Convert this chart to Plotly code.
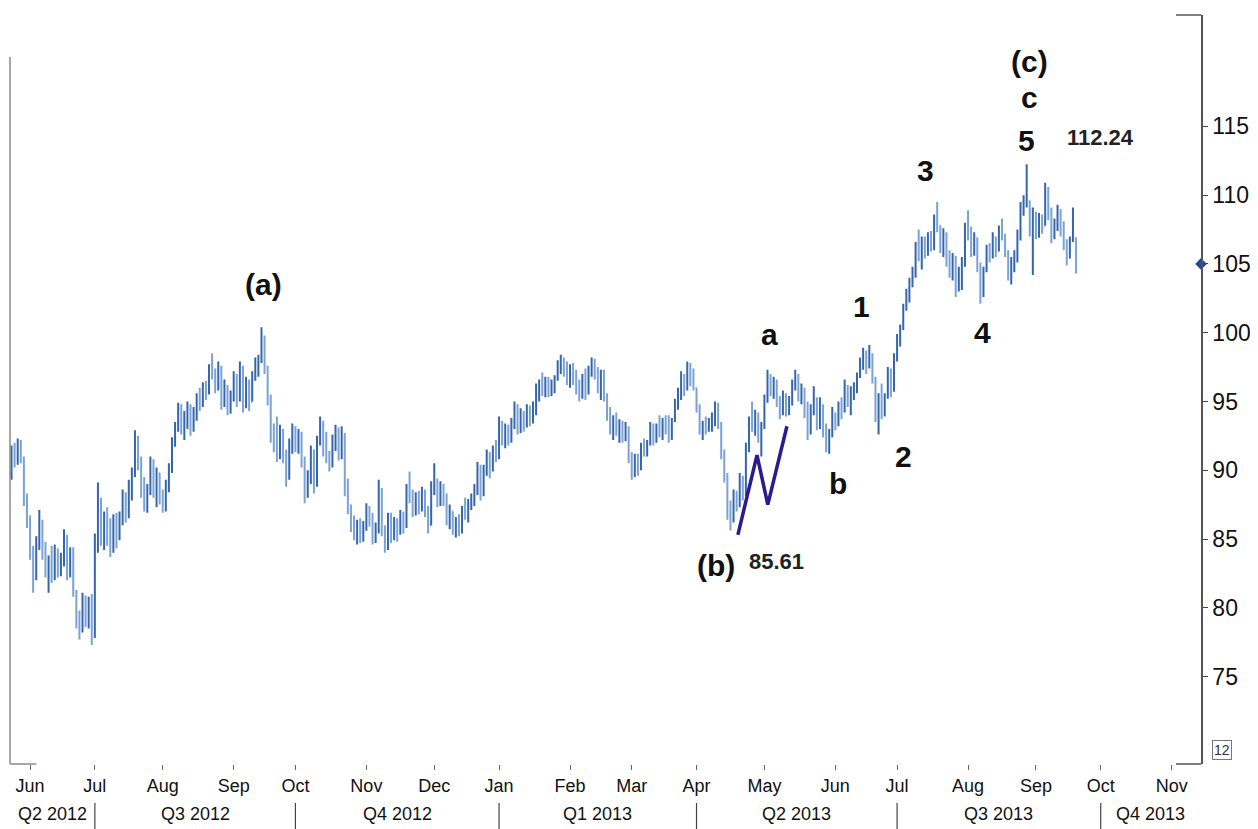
import pandas as pd
import plotly.graph_objects as go

# ---------------- data ----------------
first_date = "2012-05-24"   # first daily bar (weekday calendar)

open_ = [
    90.0, 91.5, 90.6, 91.9, 90.8, 87.8, 86.2, 84.0, 82.4, 84.8,
    86.0, 84.0, 82.6, 83.5, 82.3, 84.0, 82.8, 83.6, 85.0, 82.6,
    84.0, 81.2, 79.0, 78.4, 80.5, 79.2, 80.2, 78.0, 84.8, 87.5,
    85.0, 86.5, 85.0, 84.3, 86.2, 85.0, 86.6, 88.0, 86.8, 89.0,
    89.7, 92.0, 90.5, 88.6, 87.5, 88.6, 90.5, 88.4, 89.8, 88.0,
    87.4, 89.0, 90.2, 92.0, 93.2, 94.5, 93.0, 93.8, 94.4, 93.0,
    94.2, 95.2, 94.8, 96.0, 95.6, 97.2, 97.0, 96.2, 97.4, 95.0,
    96.0, 94.5, 95.5, 96.8, 95.2, 97.5, 94.8, 96.3, 95.0, 96.9,
    97.8, 98.0, 99.5, 97.5, 95.0, 92.5, 92.0, 91.2, 92.8, 91.0,
    89.5, 91.8, 92.9, 91.8, 92.6, 90.6, 88.2, 89.6, 91.2, 89.0,
    92.2, 93.4, 91.6, 91.0, 90.4, 92.2, 92.8, 91.4, 92.6, 88.6,
    87.2, 86.0, 85.2, 86.0, 85.0, 85.8, 87.2, 86.3, 85.0, 85.8,
    88.6, 85.6, 84.5, 86.4, 85.2, 86.2, 85.4, 86.8, 86.0, 88.6,
    88.0, 87.0, 88.1, 87.2, 88.4, 87.0, 86.0, 88.8, 89.3, 87.8,
    88.8, 87.8, 86.4, 87.0, 85.6, 86.2, 85.5, 87.0, 86.8, 87.6,
    87.9, 88.6, 90.2, 88.4, 90.0, 91.1, 90.0, 91.5, 91.0, 93.5,
    92.2, 93.0, 92.3, 93.5, 94.6, 93.2, 94.0, 93.3, 94.5, 93.6,
    94.8, 95.8, 96.2, 95.8, 96.5, 95.7, 96.3, 96.6, 97.7, 98.0,
    97.2, 96.6, 97.4, 96.5, 95.9, 95.4, 96.8, 95.6, 97.3, 97.9,
    97.0, 96.0, 96.8, 95.4, 94.0, 93.0, 93.6, 92.8, 93.3, 92.4,
    93.1, 90.9, 89.8, 90.8, 90.2, 91.7, 91.4, 91.9, 93.0, 92.2,
    93.2, 92.8, 93.5, 93.0, 92.5, 93.6, 95.0, 95.6, 96.8, 96.0,
    97.4, 96.6, 96.0, 94.6, 93.0, 93.4, 93.0, 93.6, 93.9, 94.6,
    93.4, 91.2, 89.6, 87.0, 86.4, 88.2, 87.5, 89.4, 88.3, 91.6,
    93.4, 93.2, 94.0, 92.4, 93.2, 95.2, 96.8, 95.9, 96.4, 95.0,
    94.3, 95.4, 94.2, 95.0, 96.3, 96.8, 95.4, 95.9, 94.2, 92.8,
    94.5, 95.0, 93.4, 94.6, 92.8, 91.9, 92.6, 94.0, 93.4, 94.7,
    94.3, 96.0, 95.0, 95.6, 95.8, 96.9, 97.9, 98.5, 97.5, 98.4,
    96.7, 94.0, 95.2, 94.3, 95.3, 97.0, 95.8, 98.0, 99.5, 100.3,
    101.8, 102.9, 103.8, 104.2, 106.2, 105.8, 106.6, 105.8, 107.0, 106.3,
    108.2, 107.8, 106.3, 107.2, 105.2, 104.5, 105.4, 103.2, 104.6, 105.0,
    107.6, 107.2, 106.0, 106.9, 104.8, 102.8, 104.5, 106.0, 105.5, 106.9,
    106.0, 107.5, 107.0, 105.9, 104.2, 105.0, 105.6, 107.0, 109.0, 109.5,
    109.6, 107.5, 108.6, 107.3, 108.3, 107.8, 110.4, 108.6, 107.0, 108.0,
    108.8, 107.4, 106.4, 105.6, 106.8, 106.9,
]
high = [
    91.8, 92.0, 92.3, 92.2, 91.0, 88.3, 86.7, 84.5, 85.2, 87.1,
    86.4, 84.8, 83.8, 84.5, 84.6, 84.3, 84.0, 85.7, 85.3, 84.4,
    84.4, 81.3, 79.8, 81.1, 80.9, 80.8, 81.0, 85.4, 89.1, 88.0,
    87.0, 87.3, 86.5, 86.8, 86.9, 87.0, 88.6, 88.4, 89.3, 90.2,
    92.9, 92.5, 91.0, 89.5, 89.0, 91.0, 90.8, 90.2, 89.8, 88.6,
    89.3, 90.5, 92.4, 93.5, 94.9, 94.8, 94.3, 95.0, 94.8, 94.6,
    95.6, 96.0, 96.4, 96.5, 97.7, 98.5, 97.4, 97.9, 97.6, 96.6,
    96.2, 95.8, 97.2, 97.0, 97.9, 97.6, 96.8, 96.6, 97.2, 98.2,
    98.4, 100.4, 99.8, 97.6, 95.5, 93.4, 93.9, 93.3, 93.0, 91.5,
    92.3, 93.4, 93.2, 93.0, 92.8, 91.0, 90.0, 91.8, 91.5, 92.5,
    93.9, 93.6, 92.8, 91.4, 92.6, 93.3, 93.1, 93.2, 92.7, 89.4,
    87.5, 86.7, 86.4, 86.5, 86.3, 87.6, 87.4, 86.9, 86.2, 89.3,
    88.7, 86.0, 86.9, 86.9, 86.6, 86.5, 87.1, 87.0, 89.0, 89.9,
    88.6, 88.4, 88.5, 88.8, 88.6, 87.4, 89.2, 90.5, 89.4, 89.2,
    89.0, 88.3, 87.5, 87.0, 86.6, 86.8, 87.4, 88.0, 87.9, 88.3,
    89.0, 90.6, 90.4, 90.4, 91.5, 91.3, 91.8, 92.2, 93.9, 93.6,
    93.4, 93.3, 93.8, 95.0, 94.8, 94.5, 94.3, 94.8, 94.7, 95.0,
    96.3, 96.6, 97.1, 96.8, 96.8, 96.6, 96.9, 98.0, 98.4, 98.2,
    97.9, 97.7, 97.8, 97.3, 96.6, 97.0, 97.4, 97.6, 98.2, 98.1,
    97.5, 97.3, 97.3, 95.6, 94.6, 94.0, 94.2, 93.7, 93.6, 93.5,
    93.2, 91.3, 91.2, 91.2, 92.0, 92.3, 92.2, 93.5, 93.4, 93.4,
    94.0, 93.8, 94.0, 94.0, 93.8, 95.2, 96.0, 97.2, 97.0, 97.9,
    97.8, 97.4, 96.0, 94.8, 93.6, 93.9, 93.8, 94.2, 95.0, 94.9,
    93.5, 91.5, 89.8, 87.8, 88.6, 88.5, 89.8, 89.6, 92.0, 93.9,
    95.0, 94.4, 94.2, 93.5, 95.5, 97.3, 97.0, 96.8, 96.6, 95.4,
    95.8, 95.6, 95.4, 96.6, 97.3, 97.0, 96.3, 96.0, 95.0, 94.8,
    96.1, 95.3, 95.3, 94.8, 93.4, 93.0, 94.6, 94.2, 95.0, 95.3,
    96.6, 96.2, 96.1, 96.4, 97.1, 98.2, 98.9, 98.7, 99.1, 98.5,
    96.8, 95.6, 96.3, 95.6, 97.5, 97.4, 98.5, 99.9, 100.6, 102.1,
    103.2, 104.0, 104.8, 106.6, 107.5, 107.0, 107.0, 107.3, 107.4, 108.6,
    109.5, 107.8, 107.6, 107.3, 106.0, 105.8, 105.6, 104.8, 105.5, 108.0,
    108.9, 107.7, 107.3, 106.9, 105.1, 104.8, 106.4, 106.5, 107.3, 107.0,
    107.8, 108.3, 107.2, 106.0, 105.5, 106.0, 107.5, 109.5, 110.0, 112.24,
    109.6, 109.1, 108.8, 108.7, 108.6, 110.9, 110.6, 109.1, 108.3, 109.3,
    109.0, 108.1, 106.8, 107.0, 109.1, 106.9,
]
low = [
    89.3, 90.2, 90.4, 90.5, 87.4, 85.8, 83.5, 81.1, 82.0, 84.2,
    83.5, 82.2, 81.1, 81.8, 82.0, 82.2, 82.3, 83.0, 82.0, 82.2,
    80.8, 78.5, 77.7, 78.2, 78.6, 78.5, 77.3, 77.8, 84.0, 84.5,
    84.2, 84.5, 83.7, 84.0, 84.3, 84.9, 86.0, 86.2, 86.5, 87.8,
    89.5, 90.0, 88.0, 87.0, 86.9, 88.2, 88.0, 87.3, 87.5, 86.9,
    87.0, 88.4, 89.8, 91.7, 92.8, 92.6, 92.2, 93.0, 92.5, 92.8,
    93.6, 94.3, 94.6, 95.1, 95.5, 96.6, 95.6, 95.8, 94.4, 94.6,
    94.0, 94.1, 95.0, 94.6, 95.0, 94.2, 94.5, 94.3, 95.0, 96.5,
    96.8, 97.8, 97.0, 94.7, 92.0, 91.3, 90.6, 90.8, 90.5, 88.8,
    89.3, 91.2, 91.3, 91.2, 90.2, 87.6, 88.0, 89.0, 88.3, 88.8,
    91.8, 91.0, 90.5, 89.9, 90.2, 91.4, 90.7, 90.8, 88.1, 86.8,
    85.5, 84.9, 84.6, 84.7, 84.8, 85.6, 85.9, 84.6, 84.7, 85.4,
    85.2, 84.0, 84.2, 84.7, 84.9, 84.8, 85.3, 85.4, 85.8, 87.6,
    86.6, 86.7, 86.8, 87.0, 86.6, 85.4, 86.0, 88.2, 87.3, 87.4,
    87.4, 86.0, 85.7, 85.3, 85.1, 85.2, 85.4, 86.4, 86.2, 87.1,
    87.4, 88.2, 87.8, 88.1, 89.6, 89.4, 89.9, 90.6, 90.8, 91.8,
    91.6, 91.8, 92.0, 93.0, 92.6, 92.7, 92.8, 93.1, 93.2, 93.4,
    94.0, 95.0, 95.4, 95.3, 95.3, 95.4, 95.6, 96.5, 97.0, 96.8,
    96.2, 96.0, 96.2, 95.5, 95.0, 95.2, 95.1, 95.5, 96.8, 96.6,
    95.6, 95.1, 95.0, 93.6, 92.6, 92.2, 92.5, 92.0, 92.0, 92.1,
    90.5, 89.3, 89.5, 89.6, 90.0, 91.0, 91.0, 91.8, 91.8, 92.0,
    92.4, 92.2, 92.6, 92.0, 92.2, 93.5, 94.4, 95.1, 95.4, 95.8,
    96.1, 95.8, 94.2, 92.6, 92.2, 92.6, 92.8, 92.8, 93.2, 93.0,
    90.8, 89.1, 86.4, 85.61, 86.2, 87.0, 87.3, 87.8, 88.1, 91.3,
    92.8, 92.5, 92.0, 91.0, 93.0, 94.9, 95.4, 95.2, 94.6, 93.7,
    94.0, 93.9, 94.0, 94.7, 95.8, 95.0, 94.8, 93.8, 92.2, 92.6,
    94.0, 92.9, 93.0, 92.4, 91.3, 91.2, 92.4, 92.9, 93.2, 93.7,
    94.2, 94.6, 94.0, 95.1, 95.6, 96.7, 97.3, 97.0, 97.4, 96.3,
    93.5, 92.6, 93.7, 93.9, 95.2, 95.3, 95.7, 97.9, 99.0, 100.2,
    101.6, 102.2, 103.3, 104.0, 105.2, 104.6, 105.4, 105.6, 105.9, 106.0,
    107.3, 105.8, 105.5, 104.8, 104.0, 103.8, 102.6, 103.0, 103.1, 104.8,
    106.7, 105.5, 105.6, 104.4, 102.1, 102.6, 104.4, 105.1, 105.4, 105.5,
    105.9, 106.7, 105.5, 103.8, 103.5, 104.4, 105.1, 106.7, 108.5, 109.1,
    107.0, 104.2, 106.8, 106.9, 107.2, 107.8, 108.2, 106.5, 106.8, 107.4,
    107.0, 106.0, 104.9, 105.4, 106.6, 104.3,
]
close = [
    91.5, 90.6, 91.9, 90.8, 87.8, 86.2, 84.0, 82.0, 84.8, 86.0,
    84.0, 82.6, 83.5, 82.3, 84.0, 82.8, 83.6, 85.0, 82.6, 84.0,
    81.2, 79.0, 78.4, 80.5, 79.2, 80.2, 78.0, 84.8, 87.5, 85.0,
    86.5, 85.0, 84.3, 86.2, 85.0, 86.6, 88.0, 86.8, 89.0, 89.7,
    92.0, 90.5, 88.6, 87.5, 88.6, 90.5, 88.4, 89.8, 88.0, 87.4,
    89.0, 90.2, 92.0, 93.2, 94.5, 93.0, 93.8, 94.4, 93.0, 94.2,
    95.2, 94.8, 96.0, 95.6, 97.2, 97.0, 96.2, 97.4, 95.0, 96.0,
    94.5, 95.5, 96.8, 95.2, 97.5, 94.8, 96.3, 95.0, 96.9, 97.8,
    98.0, 99.5, 97.5, 95.0, 92.5, 92.0, 91.2, 92.8, 91.0, 89.5,
    91.8, 92.9, 91.8, 92.6, 90.6, 88.2, 89.6, 91.2, 89.0, 92.2,
    93.4, 91.6, 91.0, 90.4, 92.2, 92.8, 91.4, 92.6, 88.6, 87.2,
    86.0, 85.2, 86.0, 85.0, 85.8, 87.2, 86.3, 85.0, 85.8, 88.6,
    85.6, 84.5, 86.4, 85.2, 86.2, 85.4, 86.8, 86.0, 88.6, 88.0,
    87.0, 88.1, 87.2, 88.4, 87.0, 86.0, 88.8, 89.3, 87.8, 88.8,
    87.8, 86.4, 87.0, 85.6, 86.2, 85.5, 87.0, 86.8, 87.6, 87.9,
    88.6, 90.2, 88.4, 90.0, 91.1, 90.0, 91.5, 91.0, 93.5, 92.2,
    93.0, 92.3, 93.5, 94.6, 93.2, 94.0, 93.3, 94.5, 93.6, 94.8,
    95.8, 96.2, 95.8, 96.5, 95.7, 96.3, 96.6, 97.7, 98.0, 97.2,
    96.6, 97.4, 96.5, 95.9, 95.4, 96.8, 95.6, 97.3, 97.9, 97.0,
    96.0, 96.8, 95.4, 94.0, 93.0, 93.6, 92.8, 93.3, 92.4, 93.1,
    90.9, 89.8, 90.8, 90.2, 91.7, 91.4, 91.9, 93.0, 92.2, 93.2,
    92.8, 93.5, 93.0, 92.5, 93.6, 95.0, 95.6, 96.8, 96.0, 97.4,
    96.6, 96.0, 94.6, 93.0, 93.4, 93.0, 93.6, 93.9, 94.6, 93.4,
    91.2, 89.6, 87.0, 86.4, 88.2, 87.5, 89.4, 88.3, 91.6, 93.4,
    93.2, 94.0, 92.4, 93.2, 95.2, 96.8, 95.9, 96.4, 95.0, 94.3,
    95.4, 94.2, 95.0, 96.3, 96.8, 95.4, 95.9, 94.2, 92.8, 94.5,
    95.0, 93.4, 94.6, 92.8, 91.9, 92.6, 94.0, 93.4, 94.7, 94.3,
    96.0, 95.0, 95.6, 95.8, 96.9, 97.9, 98.5, 97.5, 98.4, 96.7,
    94.0, 95.2, 94.3, 95.3, 97.0, 95.8, 98.0, 99.5, 100.3, 101.8,
    102.9, 103.8, 104.2, 106.2, 105.8, 106.6, 105.8, 107.0, 106.3, 108.2,
    107.8, 106.3, 107.2, 105.2, 104.5, 105.4, 103.2, 104.6, 105.0, 107.6,
    107.2, 106.0, 106.9, 104.8, 102.8, 104.5, 106.0, 105.5, 106.9, 106.0,
    107.5, 107.0, 105.9, 104.2, 105.0, 105.6, 107.0, 109.0, 109.5, 109.6,
    107.5, 108.6, 107.3, 108.3, 107.8, 110.4, 108.6, 107.0, 108.0, 108.8,
    107.4, 106.4, 105.6, 106.8, 106.9, 105.0,
]

# purple zig-zag drawn under wave "a" (bar number, price)
zigzag_bar = [235.4, 241.6, 245.1, 251.3]
zigzag_price = [85.3, 91.1, 87.5, 93.2]

month_labels = ["Jun", "Jul", "Aug", "Sep", "Oct", "Nov", "Dec", "Jan", "Feb",
                "Mar", "Apr", "May", "Jun", "Jul", "Aug", "Sep", "Oct", "Nov"]
quarter_labels = ["Q2 2012", "Q3 2012", "Q4 2012", "Q1 2013",
                  "Q2 2013", "Q3 2013", "Q4 2013"]
y_ticks = [75, 80, 85, 90, 95, 100, 105, 110, 115]

# wave labels: (text, bar number, price level)
wave_labels = [
    ("(a)", 81.5, 103.5), ("(b)", 228.3, 83.1), ("a", 245.5, 99.9),
    ("b", 267.8, 89.0), ("1", 275.6, 101.9), ("2", 289.2, 91.0),
    ("3", 296.3, 111.8), ("4", 314.8, 100.0), ("5", 329.1, 114.0),
    ("c", 330.0, 117.1), ("(c)", 330.0, 119.7),
]
value_labels = [("85.61", 248.0, 83.4), ("112.24", 353.0, 114.2)]

# ---------------- figure ----------------
FONT = "Liberation Sans, Arial, sans-serif"
n = len(close)
x = list(range(n))
axis_days = pd.bdate_range(first_date, "2013-11-29")
X0, X1 = -0.5, 385.5

month_idx = []
for ym in pd.period_range("2012-06", "2013-11", freq="M"):
    pos = [i for i, d in enumerate(axis_days) if d.year == ym.year and d.month == ym.month]
    month_idx.append(pos[0])
q_starts = [month_idx[k] for k in (1, 4, 7, 10, 13, 16)]
q_bounds = [X0] + q_starts + [X1]
q_centers = [(q_bounds[k] + q_bounds[k + 1]) / 2 for k in range(len(quarter_labels))]

fig = go.Figure()
fig.add_trace(go.Ohlc(
    x=x, open=open_, high=high, low=low, close=close,
    increasing=dict(line=dict(color="#3566ac", width=2)),
    decreasing=dict(line=dict(color="#7aa3d4", width=2)),
    tickwidth=0.3, showlegend=False, hoverinfo="skip",
))
fig.add_trace(go.Scatter(
    x=zigzag_bar, y=zigzag_price, mode="lines",
    line=dict(color="#2b1b8c", width=3.5), showlegend=False, hoverinfo="skip",
))
fig.add_trace(go.Scatter(
    x=[X1], y=[close[-1]], mode="markers",
    marker=dict(symbol="diamond", size=9, color="#25479a"),
    cliponaxis=False, showlegend=False, hoverinfo="skip",
))

annotations = []
for txt, bx, py in wave_labels:
    annotations.append(dict(x=bx, y=py, xref="x", yref="y", text="<b>%s</b>" % txt,
                            showarrow=False, font=dict(family=FONT, size=30, color="#111"),
                            xanchor="center", yanchor="middle"))
for txt, bx, py in value_labels:
    annotations.append(dict(x=bx, y=py, xref="x", yref="y", text="<b>%s</b>" % txt,
                            showarrow=False, font=dict(family=FONT, size=22, color="#222"),
                            xanchor="center", yanchor="middle"))
for txt, cx in zip(quarter_labels, q_centers):
    annotations.append(dict(x=cx, y=-0.067, xref="x", yref="paper", text=txt,
                            showarrow=False, font=dict(family=FONT, size=18, color="#111"),
                            xanchor="center", yanchor="middle"))
annotations.append(dict(x=1.0176, y=0.0187, xref="paper", yref="paper", text="12",
                        showarrow=False, font=dict(family=FONT, size=14, color="#333"),
                        bordercolor="#777", borderwidth=1, borderpad=1,
                        xanchor="center", yanchor="middle"))

shapes = []
for qs in q_starts:
    shapes.append(dict(type="line", xref="x", yref="paper", x0=qs, x1=qs,
                       y0=-0.052, y1=-0.088, line=dict(color="#444", width=1.2)))
frame = dict(color="#8a8a8a", width=1.5)
shapes += [
    dict(type="line", xref="paper", yref="paper", x0=0, x1=0, y0=0, y1=0.944, line=frame),
    dict(type="line", xref="paper", yref="paper", x0=0, x1=0.022, y0=0, y1=0, line=frame),
    dict(type="line", xref="paper", yref="paper", x0=0.979, x1=1, y0=0, y1=0,
         line=dict(color="#555", width=1.5)),
    dict(type="line", xref="paper", yref="paper", x0=0.979, x1=1, y0=1, y1=1,
         line=dict(color="#555", width=1.5)),
]

# the page body adds an 8px offset, so the figure is 8px smaller than the window
fig.update_layout(
    width=1250, height=821, autosize=False,
    margin=dict(l=2, r=57, t=7, b=65),
    paper_bgcolor="white", plot_bgcolor="white",
    annotations=annotations, shapes=shapes,
    xaxis=dict(range=[X0, X1], tickmode="array", tickvals=month_idx, ticktext=month_labels,
               ticks="outside", ticklen=5, tickcolor="#666", showgrid=False, zeroline=False,
               showline=False, rangeslider=dict(visible=False), automargin=False,
               tickfont=dict(family=FONT, size=18, color="#111"), ticklabelstandoff=0),
    yaxis=dict(range=[68.64, 123.1], side="right", tickmode="array", tickvals=y_ticks,
               ticks="outside", ticklen=5, tickcolor="#444", showgrid=False, zeroline=False,
               showline=True, linecolor="#555", linewidth=1.5, automargin=False,
               tickfont=dict(family=FONT, size=23, color="#111")),
)

fig.write_html("out.html")
